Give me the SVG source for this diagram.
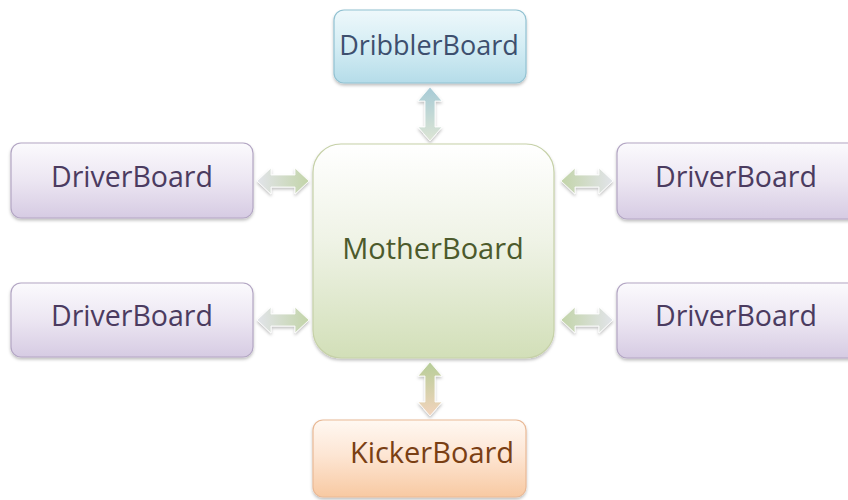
<svg xmlns="http://www.w3.org/2000/svg" width="848" height="500" viewBox="0 0 848 500">
  <defs>
    <linearGradient id="gDriver" x1="0" y1="0" x2="0" y2="1">
      <stop offset="0" stop-color="#fbfafd"/>
      <stop offset="0.5" stop-color="#ece6f2"/>
      <stop offset="1" stop-color="#d6cbe3"/>
    </linearGradient>
    <linearGradient id="gDribbler" x1="0" y1="0" x2="0" y2="1">
      <stop offset="0" stop-color="#eef8fb"/>
      <stop offset="0.5" stop-color="#d4edf4"/>
      <stop offset="1" stop-color="#b5dce9"/>
    </linearGradient>
    <linearGradient id="gMother" x1="0" y1="0" x2="0" y2="1">
      <stop offset="0" stop-color="#ffffff"/>
      <stop offset="0.45" stop-color="#eff3e6"/>
      <stop offset="1" stop-color="#d2dfb8"/>
    </linearGradient>
    <linearGradient id="gKicker" x1="0" y1="0" x2="0" y2="1">
      <stop offset="0" stop-color="#fff8f2"/>
      <stop offset="0.45" stop-color="#fde6d4"/>
      <stop offset="1" stop-color="#f8c9a2"/>
    </linearGradient>
    <linearGradient id="gArrH1" x1="0" y1="0" x2="1" y2="0">
      <stop offset="0" stop-color="#e2e4ea"/>
      <stop offset="1" stop-color="#c2d4a8"/>
    </linearGradient>
    <linearGradient id="gArrH2" x1="1" y1="0" x2="0" y2="0">
      <stop offset="0" stop-color="#e2e4ea"/>
      <stop offset="1" stop-color="#c2d4a8"/>
    </linearGradient>
    <linearGradient id="gArrTop" x1="0" y1="0" x2="0" y2="1">
      <stop offset="0" stop-color="#a6cad6"/>
      <stop offset="1" stop-color="#dde5d4"/>
    </linearGradient>
    <linearGradient id="gArrBot" x1="0" y1="0" x2="0" y2="1">
      <stop offset="0" stop-color="#b6cd98"/>
      <stop offset="1" stop-color="#f3d4bd"/>
    </linearGradient>
    <filter id="sh" x="-10%" y="-10%" width="120%" height="130%">
      <feDropShadow dx="0" dy="2" stdDeviation="1.5" flood-color="#000" flood-opacity="0.25"/>
    </filter>
    <polygon id="arrH" points="-26,0 -12,-13 -12,-6 12,-6 12,-13 26,0 12,13 12,6 -12,6 -12,13"/>
    <polygon id="arrV" points="0,-27 12,-13 5,-13 5,13 12,13 0,27 -12,13 -5,13 -5,-13 -12,-13"/>
  </defs>
  <style>
    text { font-family: "Open Sans", "Lato", sans-serif; font-size: 28.5px; text-anchor: middle; }
    .driver rect { fill: url(#gDriver); stroke: #b3a6c4; stroke-width: 1.2; filter: url(#sh); }
    .driver text { fill: #4b3b60; }
    #dribbler rect { fill: url(#gDribbler); stroke: #92c2d2; stroke-width: 1.2; filter: url(#sh); }
    #dribbler text { fill: #3d4f6e; font-size: 27px; }
    #mother rect { fill: url(#gMother); stroke: #c6d1a8; stroke-width: 1.2; filter: url(#sh); }
    #mother text { fill: #4c5a2c; font-size: 29px; }
    #kicker rect { fill: url(#gKicker); stroke: #e9b996; stroke-width: 1.2; filter: url(#sh); }
    #kicker text { fill: #7a3f14; font-size: 29px; }
    .arr { stroke: #ffffff; stroke-width: 0.8; filter: url(#sh); }
  </style>

  <g id="connectors">
    <use href="#arrV" x="430" y="114" class="arr" fill="url(#gArrTop)"/>
    <use href="#arrV" x="430" y="389" class="arr" fill="url(#gArrBot)"/>
    <use href="#arrH" x="283" y="181" class="arr" fill="url(#gArrH1)"/>
    <use href="#arrH" x="283" y="320" class="arr" fill="url(#gArrH1)"/>
    <use href="#arrH" x="587" y="181" class="arr" fill="url(#gArrH2)"/>
    <use href="#arrH" x="587" y="320" class="arr" fill="url(#gArrH2)"/>
  </g>

  <g id="dribbler">
    <rect x="334" y="10" width="192" height="73" rx="10"/>
    <text x="429" y="55">DribblerBoard</text>
  </g>

  <g id="mother">
    <rect x="313" y="144" width="241" height="214" rx="28"/>
    <text x="433" y="259">MotherBoard</text>
  </g>

  <g id="driver-lt" class="driver">
    <rect x="11" y="143" width="242" height="75" rx="10"/>
    <text x="132" y="187">DriverBoard</text>
  </g>
  <g id="driver-lb" class="driver">
    <rect x="11" y="283" width="242" height="74" rx="10"/>
    <text x="132" y="326">DriverBoard</text>
  </g>
  <g id="driver-rt" class="driver">
    <rect x="617" y="143" width="250" height="76" rx="10"/>
    <text x="736" y="187">DriverBoard</text>
  </g>
  <g id="driver-rb" class="driver">
    <rect x="617" y="283" width="250" height="75" rx="10"/>
    <text x="736" y="326">DriverBoard</text>
  </g>

  <g id="kicker">
    <rect x="313" y="420" width="213" height="77" rx="10"/>
    <text x="432" y="463">KickerBoard</text>
  </g>
</svg>
